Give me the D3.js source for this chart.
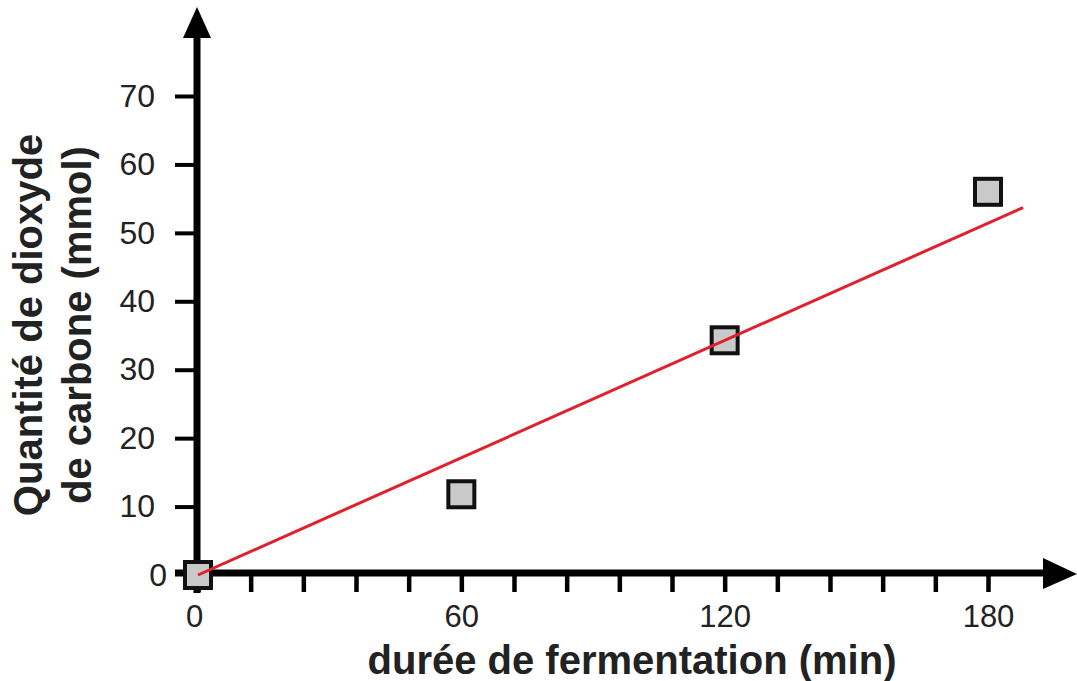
<!DOCTYPE html>
<html>
<head>
<meta charset="utf-8">
<script src="https://cdn.jsdelivr.net/npm/d3@7"></script>
<style>
  body { margin: 0; background: #fff; }
  svg text { font-family: "Liberation Sans", Arial, sans-serif; fill: #222; }
</style>
</head>
<body>
<div id="chart"></div>
<script>
// measured points (min, mmol)
const durations = [0, 60, 120, 180];
const co2 = [0, 11.8, 34.3, 56];
// red fitted line, drawn between two ends
const fitLine = [[0, 0], [188, 53.7]];
const yTicks = [0, 10, 20, 30, 40, 50, 60, 70];
const xLabels = [0, 60, 120, 180];
const xMinorStep = 12;

let svg = d3.select("#chart")
      .append("svg")
      .attr("width", 1077)
      .attr("height", 681);

let x = d3.scaleLinear().domain([0, 180]).range([198, 988]),
    y = d3.scaleLinear().domain([0, 70]).range([575, 96]);

let axisX = 197, axisY = 573;

// y axis ticks + labels
let yAxis = d3.axisLeft(y)
    .tickValues(yTicks)
    .tickSize(22)
    .tickPadding(20)
    .tickFormat(d3.format("d"));

let gy = svg.append("g")
    .attr("transform", "translate(" + axisX + ",0)")
    .call(yAxis);
gy.select(".domain").remove();
gy.selectAll(".tick line").attr("stroke", "#000").attr("stroke-width", 4);
gy.selectAll(".tick text")
    .style("font-size", "32px")
    .attr("fill", "#222")
    .attr("dx", function(d) { return d === 0 ? 12 : 0; });
gy.selectAll(".tick").filter(function(d) { return d === 0; }).select("line").remove();

// x axis ticks (every 12 min) + labels
let xAxis = d3.axisBottom(x)
    .tickValues(d3.range(0, 181, xMinorStep))
    .tickSize(19)
    .tickPadding(13)
    .tickFormat(function(d) { return xLabels.indexOf(d) >= 0 ? d : ""; });

let gx = svg.append("g")
    .attr("transform", "translate(0," + axisY + ")")
    .call(xAxis);
gx.select(".domain").remove();
gx.selectAll(".tick line").attr("stroke", "#000").attr("stroke-width", 4.5);
gx.selectAll(".tick text")
    .style("font-size", "31px")
    .attr("fill", "#222")
    .attr("dx", function(d) { return d === 0 ? -4 : 0; });

// axis lines with arrows
svg.append("line")
    .attr("x1", axisX).attr("x2", axisX)
    .attr("y1", 593).attr("y2", 30)
    .attr("stroke", "#000").attr("stroke-width", 7);
svg.append("path")
    .attr("d", "M" + (axisX - 14) + ",38L" + axisX + ",7L" + (axisX + 14) + ",38Z")
    .attr("fill", "#000");

svg.append("line")
    .attr("x1", 175).attr("x2", 1050)
    .attr("y1", axisY).attr("y2", axisY)
    .attr("stroke", "#000").attr("stroke-width", 7);
svg.append("path")
    .attr("d", "M1043," + (axisY - 15) + "L1077," + (axisY + 1) + "L1043," + (axisY + 16) + "Z")
    .attr("fill", "#000");

// points
let pts = durations.map(function(d, i) { return {t: d, v: co2[i]}; });
let side = 26;
svg.selectAll(".pt")
    .data(pts)
    .enter().append("rect")
    .attr("class", "pt")
    .attr("x", function(d) { return x(d.t) - side / 2; })
    .attr("y", function(d) { return y(d.v) - side / 2; })
    .attr("width", side)
    .attr("height", side)
    .attr("fill", "#c9c9c9")
    .attr("stroke", "#111")
    .attr("stroke-width", 4);

// fitted line
svg.append("path")
    .datum(fitLine)
    .attr("d", d3.line().x(function(d) { return x(d[0]); }).y(function(d) { return y(d[1]); }))
    .attr("stroke", "#e0202c")
    .attr("stroke-width", 3)
    .attr("fill", "none");

// titles
svg.append("text")
    .attr("x", 632).attr("y", 674)
    .attr("text-anchor", "middle")
    .style("font-size", "40px")
    .style("font-weight", "bold")
    .attr("fill", "#111")
    .text("durée de fermentation (min)");

let yt = svg.append("text")
    .attr("transform", "translate(42,325) rotate(-90)")
    .attr("text-anchor", "middle")
    .style("font-size", "40px")
    .style("font-weight", "bold")
    .attr("fill", "#111");
yt.append("tspan").attr("x", 0).attr("y", 0).text("Quantité de dioxyde");
yt.append("tspan").attr("x", 0).attr("y", 49).text("de carbone (mmol)");
</script>
</body>
</html>
